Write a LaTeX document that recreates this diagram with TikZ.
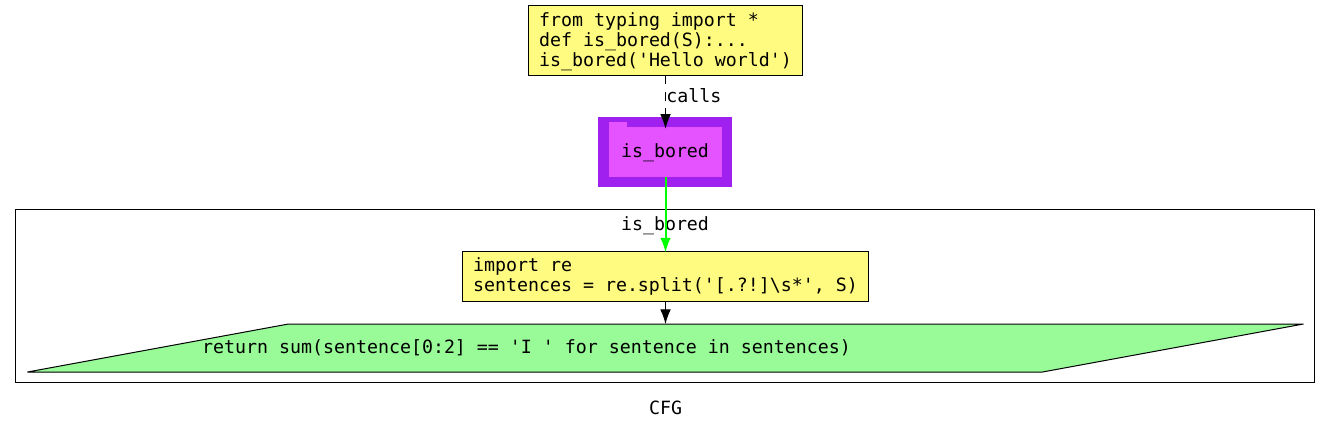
\documentclass[tikz,border=0pt]{standalone}
\usepackage{fontspec}
\setmonofont{DejaVu Sans Mono}
\usetikzlibrary{arrows.meta}
\definecolor{codeyellow}{HTML}{FFFB81}
\definecolor{retgreen}{HTML}{98FB98}
\definecolor{foldpurple}{HTML}{A020F0}
\definecolor{foldpink}{HTML}{E552FF}
\definecolor{calledge}{HTML}{00FF00}
\tikzset{
    txt/.style = {font = \fontsize{13.7}{15}\selectfont\ttfamily, inner sep = 0pt, align = left},
    codebox/.style = {txt, shape = rectangle, draw, fill = codeyellow, line width = 0.75pt, inner xsep = 8.25pt},
    edge/.style = {line width = 0.75pt, -{Latex[length = 11pt, width = 8pt]}, shorten > = -1.5pt}
}

\begin{document}
\begin{tikzpicture}[x = 0.75pt, y = -0.75pt]
    \useasboundingbox (0,0) rectangle (1331,429);
    \node (cluster) [draw, line width = 0.75pt, minimum width = 974.25pt, minimum height = 129.75pt, inner sep = 0pt] at (665,295.5) {};
    \node (clustertitle) [txt] at (665,226) {is\_bored};
    \node (caption) [txt] at (665.5,408) {CFG};
    % start block
    \node (start) [codebox, minimum width = 205.5pt, minimum height = 52.5pt] at (665.5,40.5) {};
    \node (starttext) [txt] at (665.5,41.5) {from typing import *\\def is\_bored(S):...\\is\_bored('Hello world')};
    % call block
    \node (fold) [shape = rectangle, fill = foldpurple, minimum width = 100.5pt, minimum height = 52.5pt, inner sep = 0pt] at (665,152) {};
    \fill [foldpink] (609,128) rectangle (626.5,122);
    \node (isbored) [shape = rectangle, fill = foldpink, minimum width = 84.75pt, minimum height = 37.5pt, inner sep = 0pt] at (665.5,152) {};
    \node (isboredtext) [txt] at (665,153) {is\_bored};
    % function body
    \node (body) [codebox, minimum height = 37.5pt] at (665.5,276) {import re\\sentences = re.split('[.?!]\textbackslash s*', S)};
    \coordinate (retnorth) at (665.5,324);
    \draw [fill = retgreen, line width = 0.75pt] (27.5,372) -- (288.5,324) -- (1303.5,324) -- (1042.5,372) -- cycle;
    \node (rettext) [txt] at (526.5,348) {return sum(sentence[0:2] == 'I ' for sentence in sentences)};
    % edges
    \draw [edge, dash pattern = on 6pt off 6pt on 6.75pt off 5.25pt on 30pt] (start) -- (isbored);
    \node (calls) [txt, anchor = west] at (666,96) {calls};
    \draw [edge, calledge, line width = 1.5pt] (isbored) -- (body);
    \draw [edge, shorten > = 0pt] (body) -- (retnorth);
\end{tikzpicture}
\end{document}
